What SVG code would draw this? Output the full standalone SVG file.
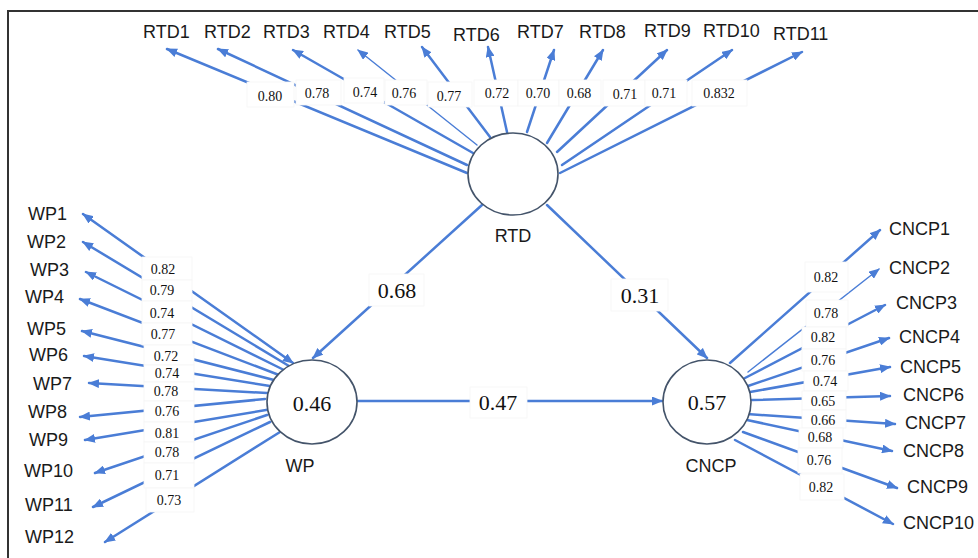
<svg xmlns="http://www.w3.org/2000/svg" width="978" height="558" viewBox="0 0 978 558">
<style>
.ln{stroke:#4A7DD6;stroke-width:2.5;fill:none;stroke-linecap:round}
.thin{stroke-width:1.4}
.ind{font-family:"Liberation Sans",Arial,sans-serif;font-size:18px;fill:#1a1a1a}
.lat{font-family:"Liberation Sans",Arial,sans-serif;font-size:18px;fill:#1a1a1a;text-anchor:middle}
.num{font-family:"Liberation Serif","Times New Roman",serif;font-size:14px;fill:#111;text-anchor:middle;dominant-baseline:central}
.big{font-family:"Liberation Serif","Times New Roman",serif;font-size:22px;fill:#111;text-anchor:middle;dominant-baseline:central}
.box{fill:#fff;stroke:#f6f6f6;stroke-width:0.8}
.circ{fill:#fff;stroke:#44546A;stroke-width:1.6}
</style>
<defs>
<marker id="ah" markerUnits="userSpaceOnUse" markerWidth="11" markerHeight="9" refX="10" refY="4.5" orient="auto">
<path d="M0,0 L11,4.5 L0,9 z" fill="#4A7DD6"/>
</marker>
<marker id="ahs" markerUnits="userSpaceOnUse" markerWidth="11" markerHeight="9" refX="1" refY="4.5" orient="auto">
<path d="M11,0 L0,4.5 L11,9 z" fill="#4A7DD6"/>
</marker>
</defs>
<rect x="0" y="0" width="978" height="558" fill="#fff"/>
<path d="M8,558 V11 H978" fill="none" stroke="#333" stroke-width="2"/>

<g id="connectors">
<!-- RTD indicators -->
<line class="ln" x1="467" y1="173" x2="167" y2="49" marker-end="url(#ah)"/>
<line class="ln" x1="467" y1="165" x2="218" y2="49" marker-end="url(#ah)"/>
<line class="ln" x1="473" y1="153" x2="293" y2="50" marker-end="url(#ah)"/>
<line class="ln thin" x1="477" y1="145" x2="358" y2="50" marker-end="url(#ah)"/>
<line class="ln" x1="490" y1="137" x2="422" y2="47" marker-end="url(#ah)"/>
<line class="ln" x1="507" y1="132" x2="488" y2="47" marker-end="url(#ah)"/>
<line class="ln" x1="527" y1="132" x2="554" y2="50" marker-end="url(#ah)"/>
<line class="ln" x1="547" y1="143" x2="603" y2="50" marker-end="url(#ah)"/>
<line class="ln" x1="557" y1="152" x2="667" y2="50" marker-end="url(#ah)"/>
<line class="ln" x1="562" y1="165" x2="732" y2="50" marker-end="url(#ah)"/>
<line class="ln" x1="560" y1="173" x2="802" y2="52" marker-end="url(#ah)"/>
<!-- WP indicators -->
<line class="ln" x1="293" y1="363" x2="83" y2="214" marker-start="url(#ahs)" marker-end="url(#ah)"/>
<line class="ln" x1="289" y1="366" x2="83" y2="242" marker-end="url(#ah)"/>
<line class="ln" x1="284" y1="370" x2="86" y2="272" marker-end="url(#ah)"/>
<line class="ln" x1="279" y1="375" x2="80" y2="299" marker-end="url(#ah)"/>
<line class="ln" x1="274" y1="380" x2="82" y2="331" marker-end="url(#ah)"/>
<line class="ln" x1="270" y1="386" x2="84" y2="356" marker-end="url(#ah)"/>
<line class="ln" x1="267" y1="393" x2="89" y2="383" marker-end="url(#ah)"/>
<line class="ln" x1="265" y1="399" x2="80" y2="417" marker-end="url(#ah)"/>
<line class="ln" x1="272" y1="409" x2="85" y2="440" marker-end="url(#ah)"/>
<line class="ln" x1="267" y1="415" x2="95" y2="473" marker-end="url(#ah)"/>
<line class="ln" x1="270" y1="422" x2="93" y2="507" marker-end="url(#ah)"/>
<line class="ln" x1="280" y1="432" x2="105" y2="542" marker-end="url(#ah)"/>
<!-- CNCP indicators -->
<line class="ln" x1="730" y1="363" x2="880" y2="230" marker-end="url(#ah)"/>
<line class="ln thin" x1="748" y1="372" x2="879" y2="269" marker-end="url(#ah)"/>
<line class="ln" x1="745" y1="378" x2="885" y2="305" marker-end="url(#ah)"/>
<line class="ln" x1="748" y1="386" x2="889" y2="338" marker-end="url(#ah)"/>
<line class="ln" x1="750" y1="392" x2="890" y2="367" marker-end="url(#ah)"/>
<line class="ln" x1="752" y1="400" x2="890" y2="396" marker-end="url(#ah)"/>
<line class="ln" x1="747" y1="414" x2="895" y2="424" marker-end="url(#ah)"/>
<line class="ln" x1="747" y1="420" x2="892" y2="451" marker-end="url(#ah)"/>
<line class="ln" x1="743" y1="432" x2="897" y2="488" marker-end="url(#ah)"/>
<line class="ln" x1="735" y1="440" x2="893" y2="524" marker-end="url(#ah)"/>
<!-- structural paths -->
<line class="ln" x1="482" y1="205" x2="313" y2="358" marker-end="url(#ah)"/>
<line class="ln" x1="547" y1="205" x2="707" y2="358" marker-end="url(#ah)"/>
<line class="ln" x1="357" y1="401" x2="662" y2="401" marker-end="url(#ah)"/>

<!-- RTD loadings -->
<rect class="box" x="247" y="82" width="47" height="25"/><text class="num" x="270" y="96">0.80</text>
<rect class="box" x="296" y="80" width="45" height="25"/><text class="num" x="317" y="93">0.78</text>
<rect class="box" x="344" y="78" width="40" height="25"/><text class="num" x="365" y="92">0.74</text>
<rect class="box" x="385" y="80" width="42" height="25"/><text class="num" x="404" y="93">0.76</text>
<rect class="box" x="428" y="82" width="44" height="25"/><text class="num" x="449" y="96">0.77</text>
<rect class="box" x="474" y="80" width="44" height="26"/><text class="num" x="497" y="93">0.72</text>
<rect class="box" x="518" y="80" width="41" height="26"/><text class="num" x="538" y="93">0.70</text>
<rect class="box" x="559" y="80" width="42" height="26"/><text class="num" x="579" y="93">0.68</text>
<rect class="box" x="603" y="80" width="42" height="26"/><text class="num" x="625" y="94">0.71</text>
<rect class="box" x="645" y="80" width="42" height="26"/><text class="num" x="664" y="93">0.71</text>
<rect class="box" x="692" y="80" width="55" height="26"/><text class="num" x="719" y="93">0.832</text>

<!-- WP loadings -->
<rect class="box" x="142" y="257" width="50" height="23"/><text class="num" x="163" y="269">0.82</text>
<rect class="box" x="142" y="280" width="50" height="21"/><text class="num" x="162" y="290">0.79</text>
<rect class="box" x="142" y="301" width="50" height="22"/><text class="num" x="162" y="313">0.74</text>
<rect class="box" x="142" y="323" width="50" height="22"/><text class="num" x="163" y="334">0.77</text>
<rect class="box" x="144" y="345" width="50" height="20"/><text class="num" x="166" y="356">0.72</text>
<rect class="box" x="144" y="365" width="50" height="17"/><text class="num" x="167" y="373">0.74</text>
<rect class="box" x="144" y="382" width="50" height="19"/><text class="num" x="166" y="391">0.78</text>
<rect class="box" x="144" y="401" width="50" height="21"/><text class="num" x="167" y="411">0.76</text>
<rect class="box" x="144" y="422" width="50" height="20"/><text class="num" x="167" y="433">0.81</text>
<rect class="box" x="144" y="442" width="50" height="21"/><text class="num" x="167" y="452">0.78</text>
<rect class="box" x="144" y="463" width="50" height="25"/><text class="num" x="167" y="475">0.71</text>
<rect class="box" x="146" y="488" width="48" height="24"/><text class="num" x="169" y="500">0.73</text>

<!-- CNCP loadings -->
<rect class="box" x="805" y="262" width="43" height="30"/><text class="num" x="826" y="277">0.82</text>
<rect class="box" x="806" y="300" width="42" height="27"/><text class="num" x="826" y="313">0.78</text>
<rect class="box" x="802" y="327" width="44" height="22"/><text class="num" x="823" y="337">0.82</text>
<rect class="box" x="802" y="349" width="44" height="22"/><text class="num" x="823" y="360">0.76</text>
<rect class="box" x="804" y="371" width="44" height="20"/><text class="num" x="825" y="381">0.74</text>
<rect class="box" x="802" y="391" width="44" height="19"/><text class="num" x="823" y="401">0.65</text>
<rect class="box" x="802" y="410" width="44" height="18"/><text class="num" x="823" y="420">0.66</text>
<rect class="box" x="799" y="428" width="44" height="20"/><text class="num" x="820" y="437">0.68</text>
<rect class="box" x="798" y="448" width="44" height="25"/><text class="num" x="819" y="460">0.76</text>
<rect class="box" x="800" y="474" width="44" height="26"/><text class="num" x="821" y="487">0.82</text>

<!-- structural labels -->
<rect class="box" x="369" y="274" width="55" height="32"/><text class="big" x="397" y="290">0.68</text>
<rect class="box" x="611" y="279" width="57" height="32"/><text class="big" x="640" y="295">0.31</text>
<rect class="box" x="470" y="387" width="57" height="31"/><text class="big" x="498" y="402">0.47</text>
</g>

<g id="RTD"><ellipse class="circ" cx="513" cy="174" rx="45" ry="41"/><text class="lat" x="513" y="242">RTD</text></g>
<g id="WP"><ellipse class="circ" cx="312" cy="402" rx="45" ry="42"/><text class="big" x="312" y="403">0.46</text><text class="lat" x="300" y="472">WP</text></g>
<g id="CNCP"><ellipse class="circ" cx="707" cy="402" rx="44" ry="42"/><text class="big" x="707" y="402">0.57</text><text class="lat" x="711" y="472">CNCP</text></g>

<g id="RTD1"><text class="ind" x="143" y="38">RTD1</text></g>
<g id="RTD2"><text class="ind" x="204" y="38">RTD2</text></g>
<g id="RTD3"><text class="ind" x="263" y="38">RTD3</text></g>
<g id="RTD4"><text class="ind" x="323" y="38">RTD4</text></g>
<g id="RTD5"><text class="ind" x="384" y="38">RTD5</text></g>
<g id="RTD6"><text class="ind" x="453" y="41">RTD6</text></g>
<g id="RTD7"><text class="ind" x="517" y="38">RTD7</text></g>
<g id="RTD8"><text class="ind" x="579" y="38">RTD8</text></g>
<g id="RTD9"><text class="ind" x="644" y="37">RTD9</text></g>
<g id="RTD10"><text class="ind" x="703" y="37">RTD10</text></g>
<g id="RTD11"><text class="ind" x="773" y="40">RTD11</text></g>

<g id="WP1"><text class="ind" x="28" y="220">WP1</text></g>
<g id="WP2"><text class="ind" x="27" y="248">WP2</text></g>
<g id="WP3"><text class="ind" x="30" y="276">WP3</text></g>
<g id="WP4"><text class="ind" x="25" y="303">WP4</text></g>
<g id="WP5"><text class="ind" x="27" y="335">WP5</text></g>
<g id="WP6"><text class="ind" x="29" y="361">WP6</text></g>
<g id="WP7"><text class="ind" x="33" y="390">WP7</text></g>
<g id="WP8"><text class="ind" x="28" y="418">WP8</text></g>
<g id="WP9"><text class="ind" x="29" y="446">WP9</text></g>
<g id="WP10"><text class="ind" x="24" y="477">WP10</text></g>
<g id="WP11"><text class="ind" x="25" y="511">WP11</text></g>
<g id="WP12"><text class="ind" x="25" y="543">WP12</text></g>

<g id="CNCP1"><text class="ind" x="889" y="235">CNCP1</text></g>
<g id="CNCP2"><text class="ind" x="889" y="274">CNCP2</text></g>
<g id="CNCP3"><text class="ind" x="896" y="309">CNCP3</text></g>
<g id="CNCP4"><text class="ind" x="899" y="343">CNCP4</text></g>
<g id="CNCP5"><text class="ind" x="900" y="373">CNCP5</text></g>
<g id="CNCP6"><text class="ind" x="903" y="401">CNCP6</text></g>
<g id="CNCP7"><text class="ind" x="905" y="429">CNCP7</text></g>
<g id="CNCP8"><text class="ind" x="903" y="457">CNCP8</text></g>
<g id="CNCP9"><text class="ind" x="907" y="493">CNCP9</text></g>
<g id="CNCP10"><text class="ind" x="903" y="529">CNCP10</text></g>
</svg>
